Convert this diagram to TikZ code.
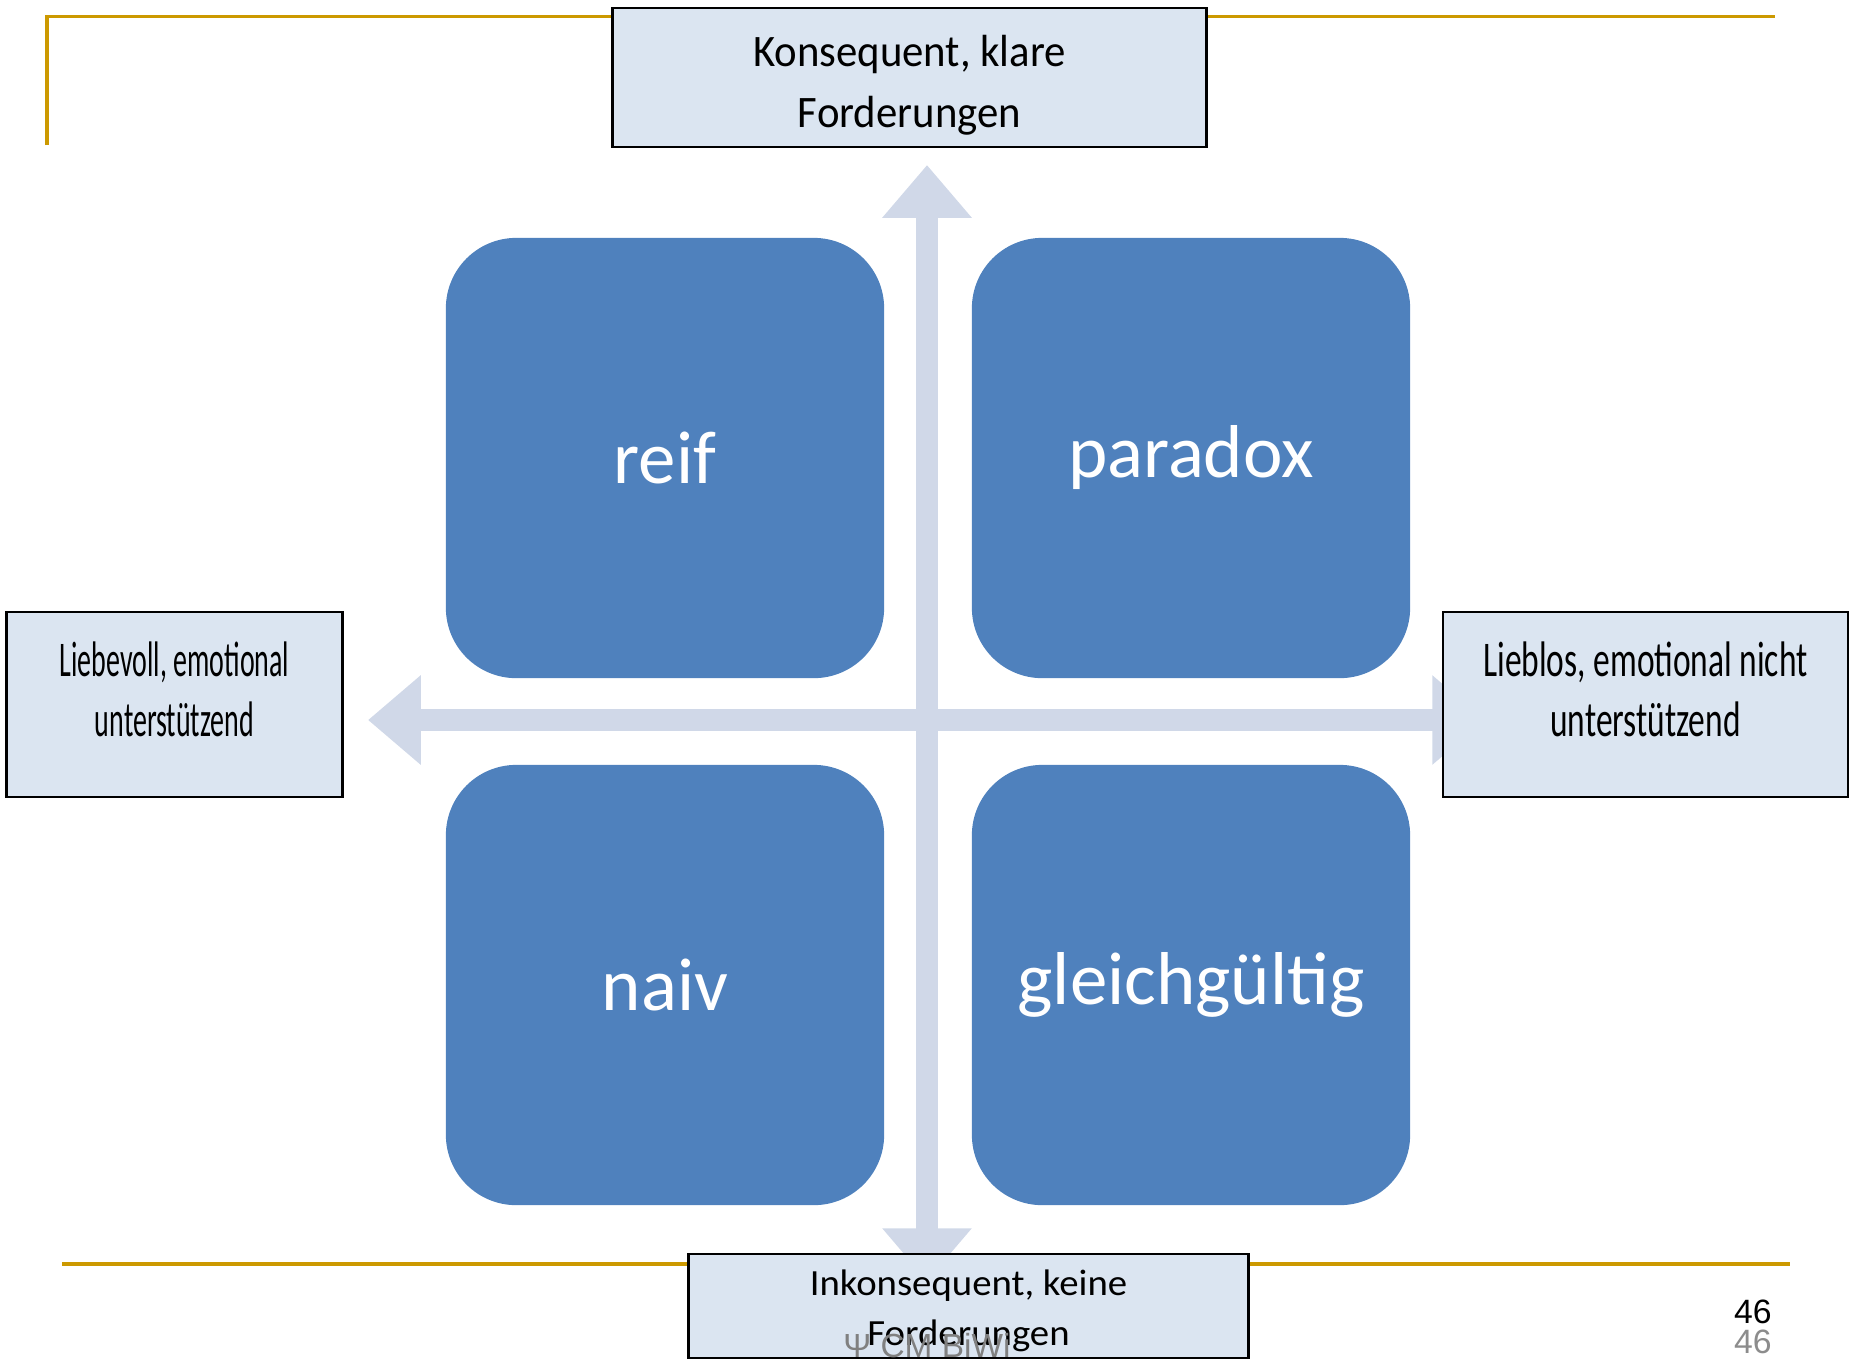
\documentclass[tikz,border=0pt]{standalone}
\usepackage{fontspec}
\setmainfont{Carlito}
\newfontfamily\kfont[FakeStretch=0.95]{Carlito}
\newfontfamily\ifont[FakeStretch=1.05]{Carlito}
\newfontfamily\lvfont[FakeStretch=0.56]{Carlito}
\newfontfamily\lbfont[FakeStretch=0.67]{Carlito}
\newfontfamily\numfont{Liberation Sans}
\usetikzlibrary{arrows.meta}
\definecolor{quadblue}{RGB}{79,129,189}
\definecolor{axisgray}{RGB}{208,216,232}
\definecolor{boxfill}{RGB}{219,229,241}
\definecolor{rulegold}{RGB}{204,153,0}

\begin{document}
\begin{tikzpicture} [x=0.01cm, y=-0.01cm,
  quad/.style={fill=quadblue, text=white, rounded corners=20pt, minimum width=4.38cm, minimum height=4.40cm, inner sep=0pt, font=\fontsize{21.3}{26}\selectfont},
  axis/.style={axisgray, line width=6.3pt, >={Triangle[width=24.5pt,length=15pt]}, <->},
  pole/.style={draw=black, line width=0.8pt, fill=boxfill, inner sep=0pt},
  poletext/.style={align=center, inner sep=0pt},
  rule/.style={rulegold, line width=1.1pt}]
\useasboundingbox (0,0) rectangle (1849,1359);

\draw[rule] (47,145) -- (47,16.5) -- (1775,16.5);
\draw[rule] (62,1264) -- (1790,1264);

\coordinate (vtop) at (927,165);
\coordinate (vbot) at (927,1281);
\coordinate (hleft) at (368,720);
\coordinate (hright) at (1485,720);
\draw[axis] (vbot) -- (vtop);
\draw[axis] (hleft) -- (hright);

\foreach \name/\x/\y/\txt in {reif/665/458/reif, paradox/1191/458/paradox, naiv/665/985/naiv, gleich/1191/985/gleichgültig}
  \node[quad] (\name) at (\x,\y) {\txt};

\node[pole, minimum width=5.93cm, minimum height=1.39cm] (klar) at (909.5,77.5) {};
\node[poletext, font=\kfont\fontsize{12.8}{17.3}\selectfont] (klartext) at ([yshift=-2.2pt]klar.center) {Konsequent, klare\\Forderungen};
\node[pole, minimum width=5.59cm, minimum height=1.04cm] (keine) at (968.5,1306) {};
\node[poletext, font=\ifont\fontsize{10.5}{14}\selectfont] (keinetext) at ([yshift=-1.4pt]keine.center) {Inkonsequent, keine\\Forderungen};
\node[pole, minimum width=3.35cm, minimum height=1.85cm] (liebevoll) at (174.5,704.5) {};
\node[poletext, font=\lvfont\fontsize{14.2}{17.3}\selectfont] (liebevolltext) at ([yshift=4.3pt]liebevoll.center) {Liebevoll, emotional\\unterstützend};
\node[pole, minimum width=4.05cm, minimum height=1.85cm] (lieblos) at (1645.5,704.5) {};
\node[poletext, font=\lbfont\fontsize{14.2}{17.3}\selectfont] (lieblostext) at ([yshift=4.3pt]lieblos.center) {Lieblos, emotional nicht\\unterstützend};

\node[anchor=base, text=black!50, font=\numfont\fontsize{9.5}{11}\selectfont] (brand) at (927,1357) {Ψ CM BiWi};
\node[anchor=base east, font=\numfont\fontsize{9.6}{11}\selectfont] (page) at (1784,1323) {46};
\node[anchor=base east, text=black!45, font=\numfont\fontsize{9.6}{11}\selectfont] (pagegray) at (1784,1353) {46};

\end{tikzpicture}
\end{document}
